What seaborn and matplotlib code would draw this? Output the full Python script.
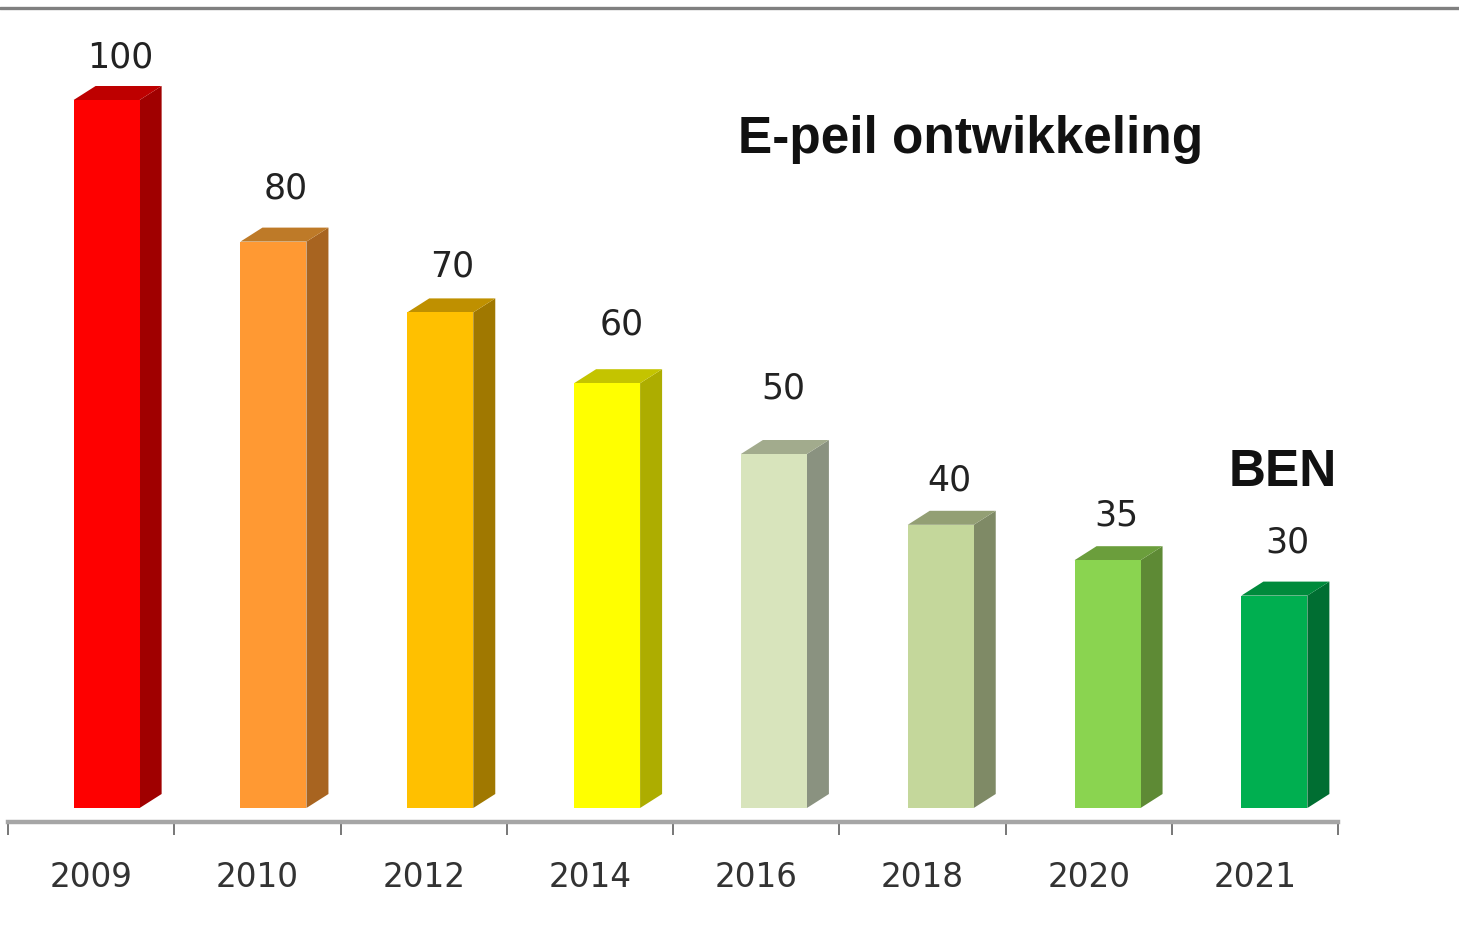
import matplotlib
matplotlib.use("Agg")
import matplotlib.pyplot as plt
from matplotlib.lines import Line2D
import seaborn as sns

years = ["2009", "2010", "2012", "2014", "2016", "2018", "2020", "2021"]
values = [100, 80, 70, 60, 50, 40, 35, 30]
front_colors = ["#FE0000", "#FF9933", "#FFC000", "#FFFF00", "#D8E4BC", "#C4D79B", "#8AD450", "#00AF50"]
top_colors = ["#BE0000", "#BE7A28", "#BF9000", "#C4C400", "#A2AB8D", "#939F74", "#6B9E3C", "#008A3C"]
side_colors = ["#A00000", "#A86420", "#A07800", "#ADAD00", "#8A9280", "#7F8A66", "#5E8A35", "#006E32"]
label_dy_px = [43, 53, 46, 59, 66, 44, 45, 53]
label_dx_px = [14, 12, 12, 15, 9, 9, 9, 13]

W, H = 1459, 930
sns.set_theme(style="white")
plt.rcParams["font.family"] = ["Liberation Sans", "DejaVu Sans"]

fig = plt.figure(figsize=(W / 100, H / 100), dpi=100, facecolor="white")
ax = fig.add_axes([8 / W, 1 - 822 / H, 1330 / W, (822 - 8) / H])
ax.patch.set_alpha(0)

sns.barplot(x=years, y=values, hue=years, palette=front_colors, saturation=1,
            width=66 / 166.25, legend=False, ax=ax, zorder=3, linewidth=0)

px_x = 1 / 166.25   # data units per pixel, horizontal
px_y = 1 / 7.08     # data units per pixel, vertical
ax.set_xlim(-0.5, 7.5)
ax.set_ylim(-14 * px_y, 800 * px_y)

depth_x, depth_y = 22 * px_x, 14 * px_y

bars = sorted(ax.patches, key=lambda p: p.get_x())
for i, bar in enumerate(bars):
    bar.set_x(bar.get_x() + (15.5 + 4 * i / 7) * px_x)
    x0 = bar.get_x()
    x1 = x0 + bar.get_width()
    v = bar.get_height()
    ax.fill([x1, x1 + depth_x, x1 + depth_x, x1], [0, depth_y, v + depth_y, v],
            color=side_colors[i], lw=0, zorder=2)
    ax.fill([x0, x0 + depth_x, x1 + depth_x, x1], [v, v + depth_y, v + depth_y, v],
            color=top_colors[i], lw=0, zorder=2)
    ax.annotate(str(values[i]), xy=((x0 + x1) / 2, v),
                xytext=(label_dx_px[i], label_dy_px[i]), textcoords="offset pixels",
                ha="center", va="center", fontsize=25, color="#222222",
                family="DejaVu Sans")

for s in ["top", "left", "right"]:
    ax.spines[s].set_visible(False)
ax.spines["bottom"].set_color("#A6A6A6")
ax.spines["bottom"].set_linewidth(3.2)

ax.set_yticks([])
ax.set_xticks(range(len(years)))
ax.set_xticklabels(years, fontsize=23.5, color="#333333", family="DejaVu Sans")
ax.set_xticks([i - 0.5 for i in range(len(years) + 1)], minor=True)
ax.tick_params(axis="x", which="major", length=0, pad=28, bottom=True)
ax.tick_params(axis="x", which="minor", length=9.5, width=1.2, color="#606060",
               direction="out", bottom=True)
ax.set_xlabel("")
ax.set_ylabel("")
ax.grid(False)

fig.text(971 / W, 1 - 140 / H, "E-peil ontwikkeling", fontsize=37, fontweight="bold",
         color="#111111", ha="center", va="center")
fig.text(1283 / W, 1 - 473 / H, "BEN", fontsize=37, fontweight="bold",
         color="#111111", ha="center", va="center")
fig.add_artist(Line2D([0, 1], [1 - 8.5 / H, 1 - 8.5 / H], color="#808080", lw=2.4))

fig.savefig("out.png", dpi=100, facecolor="white")
